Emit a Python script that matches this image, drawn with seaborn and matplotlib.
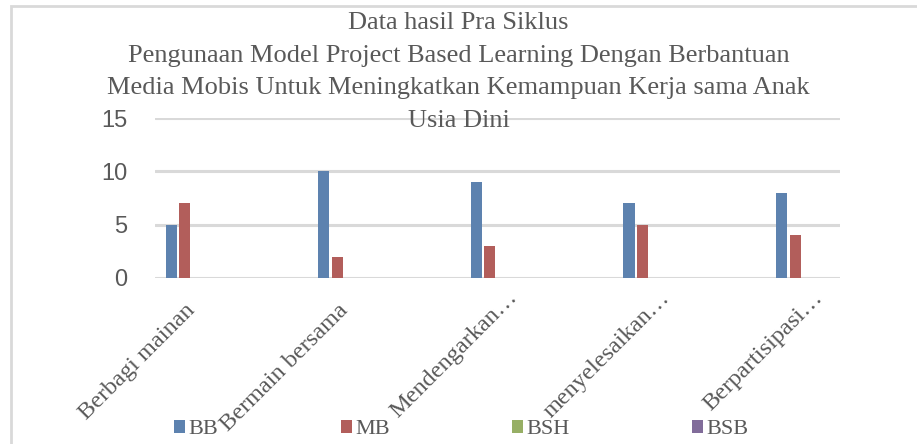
import matplotlib
matplotlib.use("Agg")
import matplotlib.pyplot as plt
import matplotlib.transforms as mtransforms
from matplotlib.patches import Rectangle
import pandas as pd
import seaborn as sns

# ── Data ──────────────────────────────────────────────────────────────────────
categories = ["Berbagi mainan", "Bermain bersama", "Mendengarkan…",
              "menyelesaikan…", "Berpartisipasi…"]
series = ["BB", "MB", "BSH", "BSB"]
bb  = [5, 10, 9, 7, 8]
mb  = [7, 2, 3, 5, 4]
bsh = [0, 0, 0, 0, 0]
bsb = [0, 0, 0, 0, 0]
yticks = [0, 5, 10, 15]
title = ("Data hasil Pra Siklus\n"
         "Pengunaan Model Project Based Learning Dengan Berbantuan\n"
         "Media Mobis Untuk Meningkatkan Kemampuan Kerja sama Anak\n"
         "Usia Dini")

colors = ["#4F81BD", "#C0504D", "#9BBB59", "#8064A2"]

rows = []
for name, vals in zip(series, [bb, mb, bsh, bsb]):
    for cat, v in zip(categories, vals):
        rows.append({"Kategori": cat, "Nilai": v, "Kriteria": name})
df = pd.DataFrame(rows)

# ── Style ─────────────────────────────────────────────────────────────────────
sns.set_theme(style="white")
plt.rcParams["font.family"] = ["Liberation Serif", "DejaVu Serif"]
SERIF = ["Liberation Serif", "DejaVu Serif"]
SANS = ["Liberation Sans", "DejaVu Sans"]
TEXT = "#595959"
GRID = "#d9d9d9"

fig = plt.figure(figsize=(9.17, 4.44), dpi=100)
ax = fig.add_axes([0.169, 0.374, 0.747, 0.360])

sns.barplot(
    data=df, x="Kategori", y="Nilai", hue="Kriteria",
    palette=colors, width=0.354, gap=0.18, ax=ax,
    edgecolor="none", linewidth=0,
)

ax.set_xlim(-0.239, 4.25)
ax.set_ylim(0, 15)
ax.set_yticks(yticks)
ax.set_yticklabels([str(t) for t in yticks], family=SANS, fontsize=17, color=TEXT)
ax.yaxis.grid(True, color=GRID, linewidth=2.2)
ax.set_axisbelow(True)
for s in ax.spines.values():
    s.set_visible(False)
ax.tick_params(axis="y", length=0, pad=20)
ax.tick_params(axis="x", length=0, pad=16)
ax.set_xticks(range(len(categories)))
ax.set_xticklabels(categories, rotation=45, ha="right", rotation_mode="anchor",
                   family=SERIF, fontsize=17.5, color=TEXT)
# nudge the slanted labels like the original: truncated ones sit further up-right
for lbl in ax.get_xticklabels():
    if lbl.get_text().endswith("…"):
        dx, dy = 10, 13
    else:
        dx, dy = -7, 0
    shift = mtransforms.ScaledTranslation(dx / 100, dy / 100, fig.dpi_scale_trans)
    lbl.set_transform(lbl.get_transform() + shift)
ax.set_xlabel("")
ax.set_ylabel("")

# ── Title ─────────────────────────────────────────────────────────────────────
fig.text(0.5, 0.973, title, ha="center", va="top", family=SERIF,
         fontsize=19, color=TEXT, linespacing=1.62)

# ── Legend ────────────────────────────────────────────────────────────────────
handles, labels = ax.get_legend_handles_labels()
ax.legend_.remove()
fig.legend(handles, labels, loc="center", bbox_to_anchor=(0.503, 0.032), ncol=4,
           frameon=False, prop={"family": SERIF, "size": 16},
           labelcolor=TEXT, handlelength=0.5, handleheight=0.5,
           handletextpad=0.15, columnspacing=5.5)

# ── Chart border ──────────────────────────────────────────────────────────────
fig.patches.append(Rectangle((11 / 917, -0.1), 1.2, 1.1 - 6 / 444,
                             transform=fig.transFigure, fill=False,
                             edgecolor=GRID, linewidth=2))

fig.savefig("out.png", dpi=100)
